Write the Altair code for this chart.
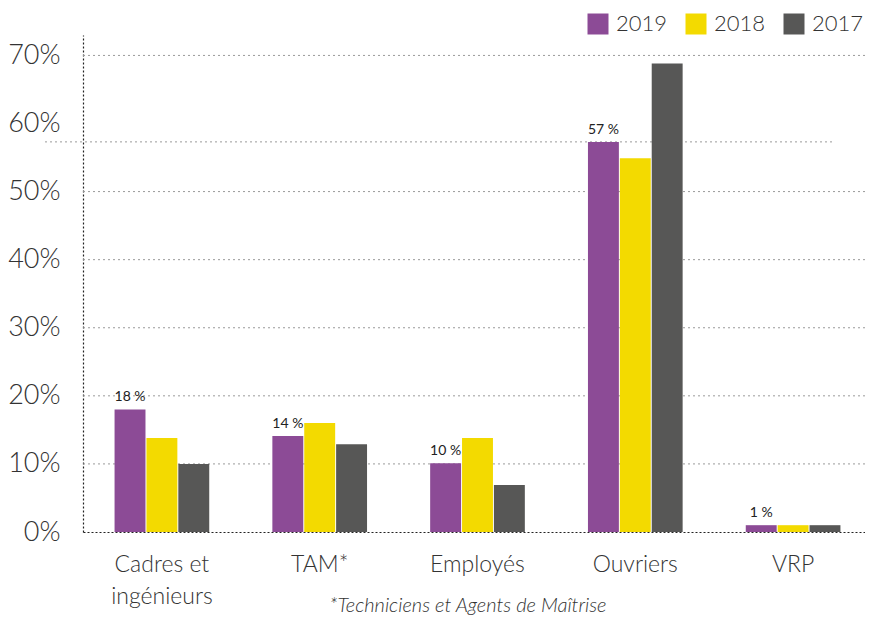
import altair as alt
import pandas as pd

categories = ["Cadres et ingénieurs", "TAM*", "Employés", "Ouvriers", "VRP"]
years = ["2019", "2018", "2017"]
v2019 = [18.0, 14.1, 10.1, 57.3, 1.0]
v2018 = [13.8, 16.0, 13.8, 54.9, 1.0]
v2017 = [10.0, 12.9, 6.9, 68.8, 1.0]
colors = ["#8c4b96", "#f3da00", "#575756"]
grid_values = [10, 20, 30, 40, 50, 70]
y_ticks = [0, 10, 20, 30, 40, 50, 60, 70]
footnote = "*Techniciens et Agents de Maîtrise"

rows = []
for yr, vals in zip(years, [v2019, v2018, v2017]):
    for c, v in zip(categories, vals):
        rows.append({"cat": c, "year": yr, "value": v})
df = pd.DataFrame(rows)

W, H = 782, 497
FONT = "Source Sans Pro, Lato, Open Sans"
TXT = "#333333"

yscale = alt.Scale(domain=[0, 73], nice=False)
yaxis = alt.Axis(
    title=None, values=y_ticks, labelExpr="datum.value + '%'", grid=False,
    ticks=False, domain=True, domainDash=[2, 2], domainColor="#222222",
    domainWidth=1.2, labelPadding=23, labelFontSize=27, labelFont=FONT,
    labelFontWeight=300, labelColor=TXT, labelBaseline="middle",
)
xaxis = alt.Axis(
    title=None, labelAngle=0, ticks=False, domain=True, domainDash=[2, 2],
    domainColor="#222222", domainWidth=1.2, labelFontSize=23, labelFont=FONT,
    labelFontWeight=300, labelColor=TXT, labelPadding=21, labelLineHeight=32,
    labelBaseline="top",
    labelExpr="datum.label == 'Cadres et ingénieurs' ? ['Cadres et', 'ingénieurs'] : datum.label",
)
x_enc = alt.X("cat:N", sort=categories,
              scale=alt.Scale(paddingInner=0.4, paddingOuter=0.2, range=[0, 789]),
              axis=xaxis)
xo_enc = alt.XOffset("year:N", sort=years, scale=alt.Scale(paddingInner=0.03))
y_enc = alt.Y("value:Q", scale=yscale, axis=yaxis)

grid = alt.Chart(pd.DataFrame({"value": grid_values})).mark_rule(
    color="#9a9a9a", strokeDash=[2, 3], strokeWidth=1
).encode(y=y_enc)

line57 = alt.Chart(pd.DataFrame({"value": [v2019[3]]})).mark_rule(
    color="#9a9a9a", strokeDash=[2, 3], strokeWidth=1
).encode(y=y_enc, x=alt.value(-38), x2=alt.value(752))

bars = alt.Chart(df).mark_bar().encode(
    x=x_enc, xOffset=xo_enc, y=y_enc,
    color=alt.Color(
        "year:N", sort=years,
        scale=alt.Scale(domain=years, range=colors),
        legend=alt.Legend(
            title=None, orient="none", legendX=504, legendY=-22,
            direction="horizontal", symbolType="square", symbolSize=441,
            symbolStrokeWidth=0, labelFontSize=22, labelFont=FONT,
            labelFontWeight=300, labelColor=TXT, labelOffset=7,
            columnPadding=17,
        ),
    ),
)

labels = alt.Chart(df).transform_filter(
    "datum.year == '2019'"
).transform_calculate(
    lbl="format(datum.value, '.0f') + ' %'"
).mark_text(
    dy=-8, baseline="alphabetic", fontSize=14, font=FONT, color="#222222"
).encode(x=x_enc, xOffset=xo_enc, y=y_enc, text="lbl:N")

foot = alt.Chart(pd.DataFrame({"t": [footnote]})).mark_text(
    fontSize=20, fontStyle="italic", font=FONT, fontWeight=300, color=TXT,
    baseline="middle", align="center",
).encode(x=alt.value(385), y=alt.value(571), text="t:N")

chart = alt.layer(grid, line57, bars, labels, foot).properties(
    width=W, height=H,
    padding={"left": 75, "top": 27, "right": 0, "bottom": 84},
    autosize=alt.AutoSizeParams(type="none"),
).configure_view(stroke=None)

chart.save("out.html", embed_options={"renderer": "svg", "actions": False})
